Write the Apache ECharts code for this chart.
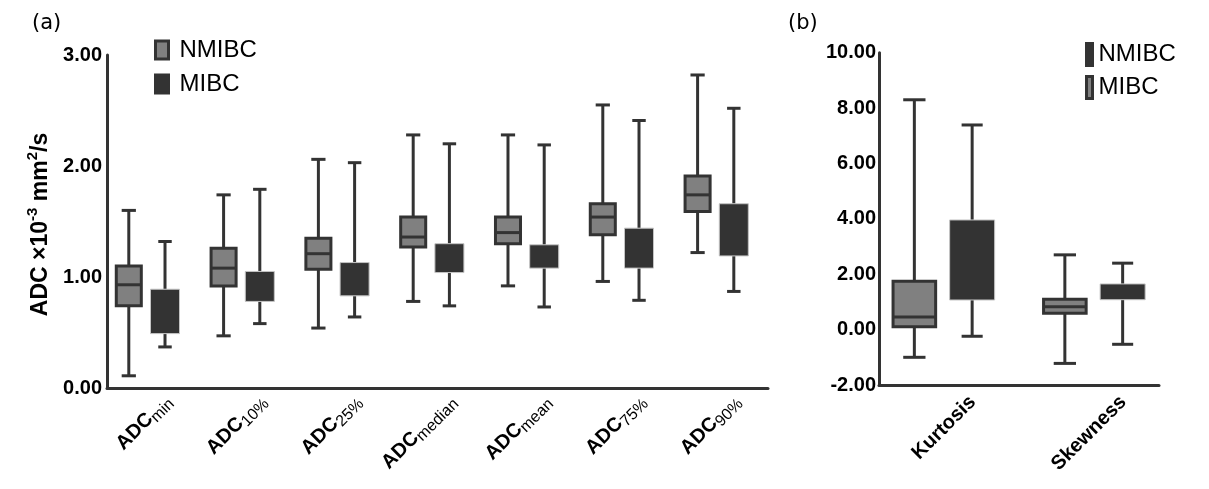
<!DOCTYPE html>
<html>
<head>
<meta charset="utf-8">
<script src="https://cdn.jsdelivr.net/npm/echarts@6/dist/echarts.min.js"></script>
<style>html,body{margin:0;padding:0;background:#fff;}#c{width:1209px;height:489px;}</style>
</head>
<body>
<div id="c"></div>
<script>
// ---- data ----
const categoriesA = ['ADCmin', 'ADC10%', 'ADC25%', 'ADCmedian', 'ADCmean', 'ADC75%', 'ADC90%'];
// [lower whisker, Q1, median, Q3, upper whisker]  (ADC x10^-3 mm^2/s)
const nmibcA = [
  [0.11, 0.74, 0.93, 1.10, 1.60],
  [0.47, 0.92, 1.08, 1.26, 1.74],
  [0.54, 1.07, 1.21, 1.35, 2.06],
  [0.78, 1.27, 1.36, 1.54, 2.28],
  [0.92, 1.30, 1.40, 1.54, 2.28],
  [0.96, 1.38, 1.54, 1.66, 2.55],
  [1.22, 1.59, 1.74, 1.91, 2.82]
];
const mibcA = [
  [0.37, 0.49, 0.68, 0.89, 1.32],
  [0.58, 0.78, 0.93, 1.05, 1.79],
  [0.64, 0.83, 0.98, 1.13, 2.03],
  [0.74, 1.04, 1.17, 1.30, 2.20],
  [0.73, 1.08, 1.19, 1.29, 2.19],
  [0.79, 1.08, 1.26, 1.44, 2.41],
  [0.87, 1.19, 1.42, 1.66, 2.52]
];
const categoriesB = ['Kurtosis', 'Skewness'];
const nmibcB = [
  [-1.00, 0.10, 0.46, 1.75, 8.30],
  [-1.22, 0.59, 0.83, 1.10, 2.70]
];
const mibcB = [
  [-0.24, 1.07, 2.50, 3.96, 7.39],
  [-0.53, 1.08, 1.35, 1.65, 2.40]
];
const yTicksA = { min: 0, max: 3, interval: 1 };
const yTicksB = { min: -2, max: 10, interval: 2 };

// ---- styles ----
const DARK = '#333333', GRAY = '#808080';
const FONT = '"Liberation Sans", Arial, Helvetica, sans-serif';

function toData(rows) { return rows.map((r, i) => [i].concat(r)); }

function boxRender(cfg) {
  return function (params, api) {
    const cat = api.value(0);
    const band = api.size([1, 0])[0];
    const cMed = api.coord([cat, api.value(3)]);
    const x = cMed[0] + cfg.offset * band;
    const w = cfg.width * band, cw = cfg.cap * band;
    const yLo = api.coord([cat, api.value(1)])[1];
    const yQ1 = api.coord([cat, api.value(2)])[1];
    const yMed = cMed[1];
    const yQ3 = api.coord([cat, api.value(4)])[1];
    const yHi = api.coord([cat, api.value(5)])[1];
    const ls = () => ({ stroke: DARK, lineWidth: 3, lineCap: 'butt', fill: null });
    const children = [
      { type: 'line', shape: { x1: x, y1: yHi, x2: x, y2: yQ3 }, style: ls() },
      { type: 'line', shape: { x1: x, y1: yQ1, x2: x, y2: yLo }, style: ls() },
      { type: 'line', shape: { x1: x - cw / 2, y1: yHi, x2: x + cw / 2, y2: yHi }, style: ls() },
      { type: 'line', shape: { x1: x - cw / 2, y1: yLo, x2: x + cw / 2, y2: yLo }, style: ls() },
      { type: 'rect', shape: { x: x - w / 2, y: yQ3, width: w, height: yQ1 - yQ3 },
        style: { fill: cfg.fill, stroke: cfg.stroke, lineWidth: cfg.strokeWidth } }
    ];
    if (cfg.showMedian) {
      children.push({ type: 'line', shape: { x1: x - w / 2, y1: yMed, x2: x + w / 2, y2: yMed }, style: ls() });
    }
    return { type: 'group', children: children };
  };
}

const labelCommon = { fontFamily: FONT, color: '#000' };
const TITLE_FONT = '"DejaVu Sans", Verdana, sans-serif';

const option = {
  animation: false,
  backgroundColor: '#fff',
  textStyle: { fontFamily: FONT },
  title: [
    { text: '(a)', left: 32, top: 13, padding: 0, textStyle: { fontFamily: TITLE_FONT, fontSize: 21, fontWeight: 'normal', color: '#000' } },
    { text: '(b)', left: 788, top: 13, padding: 0, textStyle: { fontFamily: TITLE_FONT, fontSize: 21, fontWeight: 'normal', color: '#000' } }
  ],
  legend: [
    {
      left: 154, top: 38, orient: 'vertical', padding: 0,
      itemWidth: 13, itemHeight: 18, itemGap: 10, selectedMode: false,
      textStyle: { fontFamily: FONT, fontSize: 24, color: '#000', padding: [0, 0, 0, 6] },
      data: [
        { name: 'NMIBC', icon: 'rect', itemStyle: { color: GRAY, borderColor: DARK, borderWidth: 3 } },
        { name: 'MIBC', icon: 'rect', itemStyle: { color: DARK, borderColor: DARK, borderWidth: 3 } }
      ]
    },
    {
      left: 1085, top: 42, orient: 'vertical', padding: 0,
      itemWidth: 6, itemHeight: 22, itemGap: 8, selectedMode: false,
      textStyle: { fontFamily: FONT, fontSize: 24, color: '#000', padding: [0, 0, 0, 1] },
      data: [
        { name: 'NMIBC', icon: 'rect', itemStyle: { color: DARK, borderColor: DARK, borderWidth: 3 } },
        { name: 'MIBC', icon: 'rect', itemStyle: { color: GRAY, borderColor: DARK, borderWidth: 3 } }
      ]
    }
  ],
  grid: [
    { left: 107, top: 55, width: 661, height: 333 },      // 0 frame a
    { left: 99.5, top: 55, width: 663.6, height: 333 },   // 1 data a
    { left: 121, top: 55, width: 663.6, height: 333 },    // 2 labels a
    { left: 879, top: 52.7, width: 280, height: 332.3 },  // 3 frame b
    { left: 868, top: 52.7, width: 301, height: 332.3 },  // 4 data b
    { left: 897.5, top: 52.7, width: 301, height: 332.3 } // 5 labels b
  ],
  xAxis: [
    { gridIndex: 0, type: 'category', data: categoriesA, axisLine: { onZero: false, lineStyle: { color: DARK, width: 3 } }, axisTick: { show: false }, axisLabel: { show: false } },
    { gridIndex: 1, type: 'category', data: categoriesA, show: false, axisLine: { onZero: false } },
    { gridIndex: 2, type: 'category', data: categoriesA, axisLine: { show: false, onZero: false }, axisTick: { show: false },
      axisLabel: {
        rotate: 45, margin: 10, interval: 0,
        formatter: v => '{m|ADC}{s|' + v.slice(3) + '}',
        rich: {
          m: Object.assign({ fontSize: 20, fontWeight: 'bold', lineHeight: 26 }, labelCommon),
          s: Object.assign({ fontSize: 16, fontWeight: 'normal', lineHeight: 16, padding: [9, 0, 0, 0], verticalAlign: 'bottom' }, labelCommon)
        }
      } },
    { gridIndex: 3, type: 'category', data: categoriesB, axisLine: { onZero: false, lineStyle: { color: DARK, width: 3 } }, axisTick: { show: false }, axisLabel: { show: false } },
    { gridIndex: 4, type: 'category', data: categoriesB, show: false, axisLine: { onZero: false } },
    { gridIndex: 5, type: 'category', data: categoriesB, axisLine: { show: false, onZero: false }, axisTick: { show: false },
      axisLabel: Object.assign({ rotate: 45, margin: 14, interval: 0, fontSize: 20, fontWeight: 'bold' }, labelCommon) }
  ],
  yAxis: [
    { gridIndex: 0, type: 'value', min: yTicksA.min, max: yTicksA.max, interval: yTicksA.interval,
      axisLine: { show: true, onZero: false, lineStyle: { color: DARK, width: 3 } }, axisTick: { show: false }, splitLine: { show: false },
      axisLabel: Object.assign({ margin: 5, fontSize: 20, fontWeight: 'bold', formatter: v => v.toFixed(2) }, labelCommon),
      name: '{m|ADC ×10}{sup|-3}{m| mm}{sup|2}{m|/s}',
      nameLocation: 'middle', nameRotate: 90, nameGap: 26,
      nameTextStyle: {
        padding: [0, 6, 0, 0],
        rich: {
          m: Object.assign({ fontSize: 23, fontWeight: 'bold', lineHeight: 30 }, labelCommon),
          sup: Object.assign({ fontSize: 15, fontWeight: 'bold', lineHeight: 15, padding: [0, 0, 12, 0], verticalAlign: 'top' }, labelCommon)
        }
      } },
    { gridIndex: 1, type: 'value', min: yTicksA.min, max: yTicksA.max, show: false, splitLine: { show: false } },
    { gridIndex: 2, type: 'value', min: yTicksA.min, max: yTicksA.max, show: false, splitLine: { show: false } },
    { gridIndex: 3, type: 'value', min: yTicksB.min, max: yTicksB.max, interval: yTicksB.interval,
      axisLine: { show: true, onZero: false, lineStyle: { color: DARK, width: 3 } }, axisTick: { show: false }, splitLine: { show: false },
      axisLabel: Object.assign({ margin: 3, fontSize: 20, fontWeight: 'bold', formatter: v => v.toFixed(2) }, labelCommon) },
    { gridIndex: 4, type: 'value', min: yTicksB.min, max: yTicksB.max, show: false, splitLine: { show: false } },
    { gridIndex: 5, type: 'value', min: yTicksB.min, max: yTicksB.max, show: false, splitLine: { show: false } }
  ],
  series: [
    { name: 'NMIBC', type: 'custom', xAxisIndex: 1, yAxisIndex: 1, data: toData(nmibcA),
      encode: { x: 0, y: [1, 2, 3, 4, 5] }, itemStyle: { color: GRAY },
      renderItem: boxRender({ offset: -0.191, width: 0.264, cap: 0.150, fill: GRAY, stroke: DARK, strokeWidth: 3, showMedian: true }) },
    { name: 'MIBC', type: 'custom', xAxisIndex: 1, yAxisIndex: 1, data: toData(mibcA),
      encode: { x: 0, y: [1, 2, 3, 4, 5] }, itemStyle: { color: DARK },
      renderItem: boxRender({ offset: 0.191, width: 0.306, cap: 0.142, fill: DARK, stroke: '#c4c4c4', strokeWidth: 1, showMedian: false }) },
    { name: 'NMIBC', type: 'custom', xAxisIndex: 4, yAxisIndex: 4, data: toData(nmibcB),
      encode: { x: 0, y: [1, 2, 3, 4, 5] }, itemStyle: { color: GRAY },
      renderItem: boxRender({ offset: -0.192, width: 0.283, cap: 0.148, fill: GRAY, stroke: DARK, strokeWidth: 3, showMedian: true }) },
    { name: 'MIBC', type: 'custom', xAxisIndex: 4, yAxisIndex: 4, data: toData(mibcB),
      encode: { x: 0, y: [1, 2, 3, 4, 5] }, itemStyle: { color: DARK },
      renderItem: boxRender({ offset: 0.192, width: 0.299, cap: 0.140, fill: DARK, stroke: '#c4c4c4', strokeWidth: 1, showMedian: false }) }
  ]
};

const chart = echarts.init(document.getElementById('c'), null, { renderer: 'canvas' });
chart.setOption(option);
</script>
</body>
</html>
